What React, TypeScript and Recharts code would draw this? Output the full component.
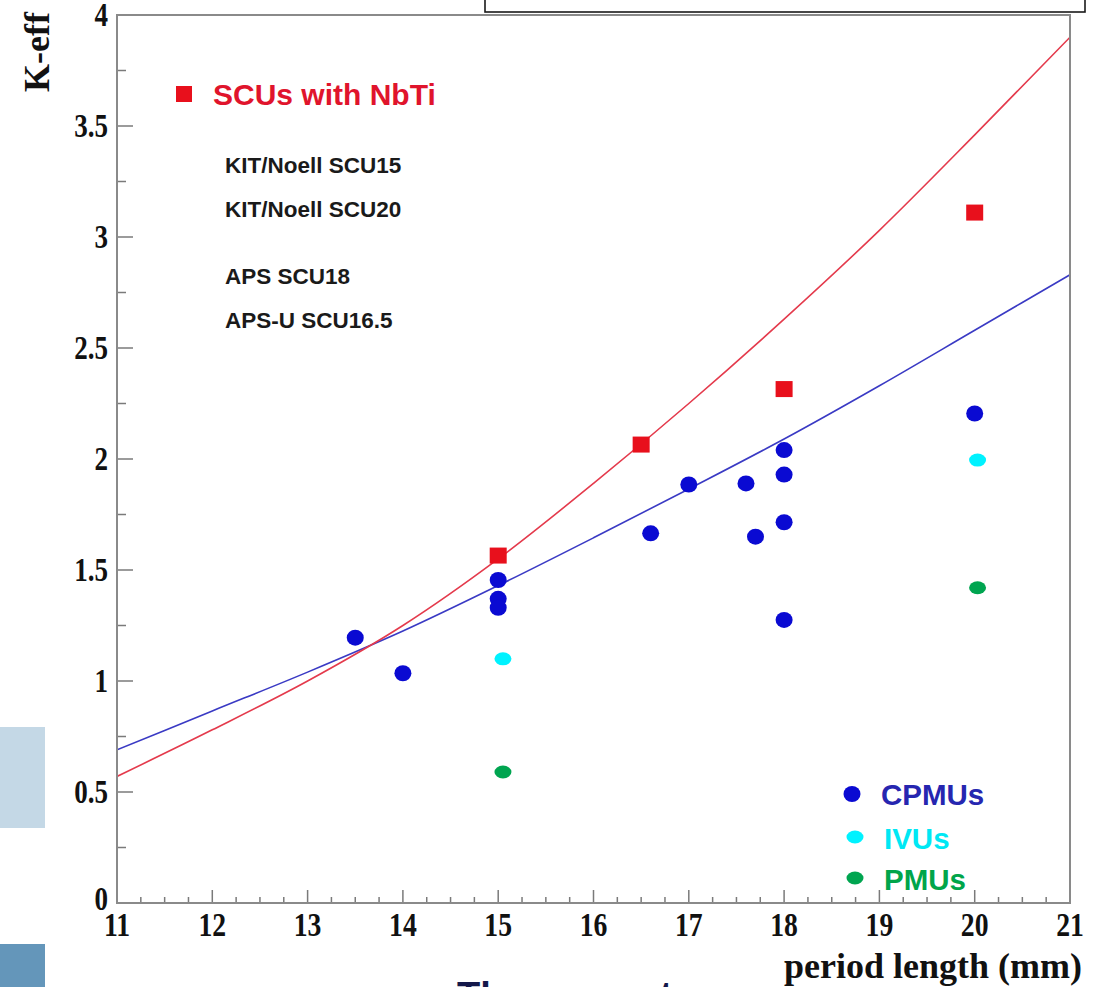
import React from 'react';
import { ScatterChart, Scatter, XAxis, YAxis } from 'recharts';

// SCUs with NbTi
const scuPoints = [
    { x: 15, y: 1.565 },
    { x: 16.5, y: 2.065 },
    { x: 18, y: 2.315 },
    { x: 20, y: 3.11 },
];

// CPMUs
const cpmuPoints = [
    { x: 13.5, y: 1.195 },
    { x: 14, y: 1.035 },
    { x: 15, y: 1.455 },
    { x: 15, y: 1.37 },
    { x: 15, y: 1.33 },
    { x: 16.6, y: 1.665 },
    { x: 17, y: 1.885 },
    { x: 17.6, y: 1.89 },
    { x: 17.7, y: 1.65 },
    { x: 18, y: 2.04 },
    { x: 18, y: 1.93 },
    { x: 18, y: 1.715 },
    { x: 18, y: 1.275 },
    { x: 20, y: 2.205 },
];

// IVUs
const ivuPoints = [
    { x: 15.05, y: 1.1 },
    { x: 20.03, y: 1.995 },
];

// PMUs
const pmuPoints = [
    { x: 15.05, y: 0.59 },
    { x: 20.03, y: 1.42 },
];

// fit curves
const redFit = [
    { x: 11, y: 0.57 },
    { x: 12, y: 0.78 },
    { x: 13, y: 1.0 },
    { x: 14, y: 1.25 },
    { x: 15, y: 1.55 },
    { x: 16, y: 1.89 },
    { x: 17, y: 2.25 },
    { x: 18, y: 2.63 },
    { x: 19, y: 3.03 },
    { x: 20, y: 3.46 },
    { x: 21, y: 3.9 },
];

const blueFit = [
    { x: 11, y: 0.69 },
    { x: 12, y: 0.865 },
    { x: 13, y: 1.04 },
    { x: 14, y: 1.225 },
    { x: 15, y: 1.43 },
    { x: 16, y: 1.645 },
    { x: 17, y: 1.865 },
    { x: 18, y: 2.09 },
    { x: 19, y: 2.33 },
    { x: 20, y: 2.58 },
    { x: 21, y: 2.83 },
];

const xLabels = [11, 12, 13, 14, 15, 16, 17, 18, 19, 20, 21];
const yLabels = [0, 0.5, 1, 1.5, 2, 2.5, 3, 3.5, 4];

const xTicks: number[] = [];
xLabels.forEach((v, i) => {
    xTicks.push(v);
    if (i < xLabels.length - 1) xTicks.push(v + 0.25, v + 0.5, v + 0.75);
});
const yTicks: number[] = [];
yLabels.forEach((v, i) => {
    yTicks.push(v);
    if (i < yLabels.length - 1) yTicks.push(v + 0.25);
});

const SERIF = '"Liberation Serif", "Times New Roman", serif';
const SANS = '"Liberation Sans", Arial, Helvetica, sans-serif';
const TICK = '#7a7a7a';

function XTick({ x, y, payload }: any) {
    const v = payload.value;
    const major = xLabels.includes(v);
    return (
        <g>
            <line x1={x} x2={x} y1={y} y2={y - (major ? 13 : 6)} stroke={TICK} strokeWidth={1.5} />
            {major && (
                <text
                    transform={`translate(${x},${y + 33}) scale(0.84,1)`}
                    textAnchor="middle"
                    fontFamily={SERIF}
                    fontWeight="bold"
                    fontSize={33}
                    fill="#111"
                >
                    {v}
                </text>
            )}
        </g>
    );
}

function YTick({ x, y, payload }: any) {
    const v = payload.value;
    const major = yLabels.includes(v);
    // the "0" sits a little higher so it clears the "11" below it
    const dy = v === 0 ? 7 : 11;
    return (
        <g>
            <line x1={x} x2={x + (major ? 16 : 9)} y1={y} y2={y} stroke={TICK} strokeWidth={1.5} />
            {major && (
                <text
                    transform={`translate(${x - 9},${y + dy}) scale(0.82,1)`}
                    textAnchor="end"
                    fontFamily={SERIF}
                    fontWeight="bold"
                    fontSize={33}
                    fill="#111"
                >
                    {v}
                </text>
            )}
        </g>
    );
}

const Square = ({ cx, cy }: any) => <rect x={cx - 8.5} y={cy - 8} width={17} height={16} fill="#e8101c" />;
const BlueDot = ({ cx, cy }: any) => <ellipse cx={cx} cy={cy} rx={8.5} ry={8} fill="#0a0ad2" />;
const CyanDot = ({ cx, cy }: any) => <ellipse cx={cx} cy={cy} rx={8.5} ry={6.5} fill="#00f2ff" />;
const GreenDot = ({ cx, cy }: any) => <ellipse cx={cx} cy={cy} rx={8.5} ry={6.5} fill="#00a550" />;
const NoDot = () => <g />;

export default function App() {
    return (
        <div style={{ position: 'absolute', left: 0, top: 0, width: 1094, height: 987, overflow: 'hidden', background: '#fff' }}>
            <ScatterChart width={1094} height={987} margin={{ top: 15, right: 24, bottom: 0, left: 0 }}>
                <XAxis
                    type="number"
                    dataKey="x"
                    domain={[11, 21]}
                    ticks={xTicks}
                    interval={0}
                    height={84}
                    axisLine={false}
                    tickLine={false}
                    tickSize={0}
                    tickMargin={0}
                    tick={<XTick />}
                    allowDataOverflow
                />
                <YAxis
                    type="number"
                    dataKey="y"
                    domain={[0, 4]}
                    ticks={yTicks}
                    interval={0}
                    width={117}
                    axisLine={false}
                    tickLine={false}
                    tickSize={0}
                    tickMargin={0}
                    tick={<YTick />}
                    allowDataOverflow
                />
                <Scatter data={blueFit} line={{ stroke: '#3a3ac4', strokeWidth: 1.6 }} lineJointType="monotoneX" shape={<NoDot />} isAnimationActive={false} />
                <Scatter data={redFit} line={{ stroke: '#e43a4c', strokeWidth: 1.6 }} lineJointType="monotoneX" shape={<NoDot />} isAnimationActive={false} />
                <Scatter data={cpmuPoints} shape={<BlueDot />} isAnimationActive={false} />
                <Scatter data={ivuPoints} shape={<CyanDot />} isAnimationActive={false} />
                <Scatter data={pmuPoints} shape={<GreenDot />} isAnimationActive={false} />
                <Scatter data={scuPoints} shape={<Square />} isAnimationActive={false} />
            </ScatterChart>

            <svg width={1094} height={987} style={{ position: 'absolute', left: 0, top: 0, pointerEvents: 'none' }}>
                {/* plot frame */}
                <rect x={117} y={15} width={953} height={888} fill="none" stroke="#8a8a8a" strokeWidth={2} />
                {/* box at the top */}
                <rect x={485} y={-6} width={600} height={18} fill="#fff" stroke="#1a1a1a" strokeWidth={1.6} />
                {/* slide decorations at the left */}
                <rect x={0} y={727} width={45} height={101} fill="#c4d8e6" />
                <rect x={0} y={944} width={45} height={43} fill="#6496ba" />

                <text transform="translate(49,52) rotate(-90)" textAnchor="middle" fontFamily={SERIF} fontWeight="bold" fontSize={36} fill="#111">
                    K-eff
                </text>
                <text x={1082} y={978} textAnchor="end" fontFamily={SERIF} fontWeight="bold" fontSize={36} fill="#111">
                    period length (mm)
                </text>
                <text x={457} y={1009} fontFamily={SANS} fontWeight="bold" fontSize={38} fill="#14184a">
                    The present
                </text>

                {/* upper legend */}
                <rect x={176} y={86} width={16} height={16} fill="#e8101c" />
                <text x={213} y={105} fontFamily={SANS} fontWeight="bold" fontSize={30} fill="#e0142c">
                    SCUs with NbTi
                </text>
                <g fontFamily={SANS} fontWeight="bold" fontSize={22.5} fill="#1a1a1a">
                    <text x={225} y={173}>KIT/Noell SCU15</text>
                    <text x={225} y={217}>KIT/Noell SCU20</text>
                    <text x={225} y={284}>APS SCU18</text>
                    <text x={225} y={328}>APS-U SCU16.5</text>
                </g>

                {/* lower legend */}
                <ellipse cx={852} cy={794} rx={8.5} ry={8} fill="#0a0ad2" />
                <text x={881} y={805} fontFamily={SANS} fontWeight="bold" fontSize={29.5} fill="#2626b0">
                    CPMUs
                </text>
                <ellipse cx={855} cy={837} rx={8.5} ry={6.5} fill="#00f2ff" />
                <text x={884} y={849} fontFamily={SANS} fontWeight="bold" fontSize={29.5} fill="#00e8f4">
                    IVUs
                </text>
                <ellipse cx={855} cy={878} rx={8.5} ry={6.5} fill="#00a550" />
                <text x={884} y={890} fontFamily={SANS} fontWeight="bold" fontSize={29.5} fill="#00a54a">
                    PMUs
                </text>
            </svg>
        </div>
    );
}
